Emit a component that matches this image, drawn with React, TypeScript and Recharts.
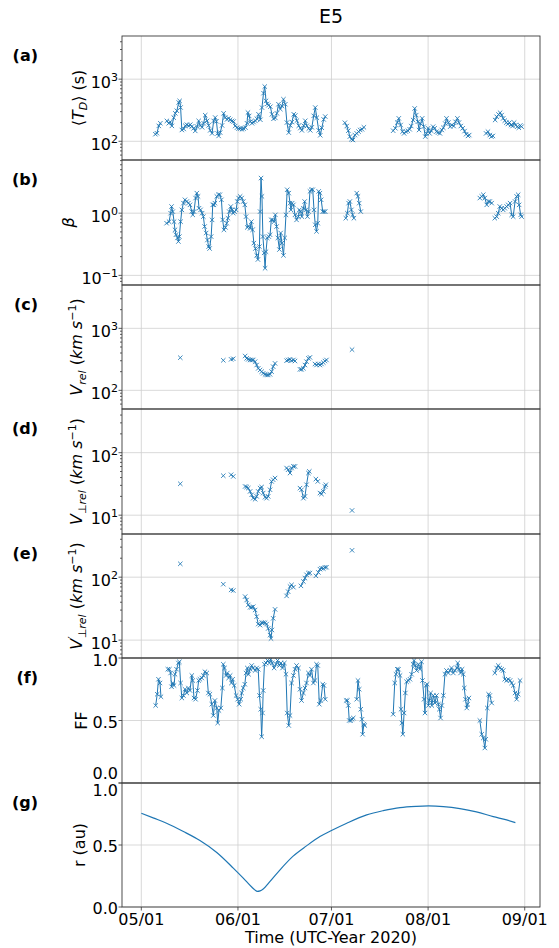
import type { ReactNode } from 'react'
import { LineChart, Line, XAxis, YAxis, CartesianGrid } from 'recharts'

type Pt = [number, number]
type Row = { t: number; v: number | null }

const FONT = '"DejaVu Sans", sans-serif'
const BLUE = '#1f77b4'
const FIG_W = 559
const PLOT_LEFT = 122
const PLOT_RIGHT = 540

// x is days since 2020-05-01
const dateTicks = [0, 31, 61, 92, 123]
const dateLabels = ['05/01', '06/01', '07/01', '08/01', '09/01']
const xDomain: [number, number] = [-6.2, 127.9]

// frame edges of the seven stacked panels, top to bottom
const panelEdges = [36, 160, 285, 409, 534, 658, 783, 907]
const panelLetters = ['(a)', '(b)', '(c)', '(d)', '(e)', '(f)', '(g)']

// <T_D> (s)
const tdSegments: Pt[][] = [
  [[4.5, 130], [5.0, 135], [5.6, 177], [6.1, 195]],
  [[8.2, 213], [8.8, 195], [9.3, 204], [9.8, 177], [10.4, 240], [10.9, 282], [11.4, 310], [12.0, 421], [12.3, 447], [12.6, 350], [13.0, 152], [13.6, 158], [14.1, 178], [14.6, 185], [15.2, 177], [15.7, 185], [16.2, 173], [16.8, 162], [17.3, 147], [17.9, 173], [18.4, 213], [18.9, 180], [19.5, 168], [20.0, 195], [20.5, 263], [21.1, 213], [21.6, 180], [22.1, 150], [22.7, 134], [23.2, 213], [23.7, 241], [24.1, 210], [24.5, 134], [24.8, 122], [25.3, 138], [25.9, 180], [26.4, 282], [26.9, 241], [27.5, 225], [28.0, 235], [28.5, 222], [29.1, 213], [29.6, 208], [30.1, 176], [30.7, 166], [31.2, 160], [31.8, 160], [32.3, 156], [32.8, 160], [33.4, 166], [33.9, 195], [34.2, 290], [34.6, 256], [35.0, 207], [35.5, 195], [36.0, 204], [36.6, 213], [37.1, 230], [37.6, 272], [38.2, 222], [38.7, 349], [39.2, 595], [39.6, 760], [40.0, 447], [40.4, 400], [40.8, 380], [41.4, 360], [41.9, 272], [42.4, 230], [43.0, 238], [43.5, 282], [44.0, 395], [44.6, 330], [45.1, 370], [45.6, 475], [46.2, 395], [46.7, 200], [47.3, 138], [47.8, 180], [48.3, 204], [48.9, 272], [49.4, 260], [49.9, 215], [50.5, 178], [51.0, 163], [51.5, 150], [52.1, 178], [52.6, 214], [53.1, 178], [53.7, 160], [54.2, 150], [54.7, 168], [55.3, 257], [55.8, 349], [56.3, 240], [56.9, 150], [57.4, 125], [57.9, 165], [58.5, 225], [59.0, 250]],
  [[65.3, 199], [65.9, 176], [66.4, 148], [66.9, 119], [67.4, 108], [67.9, 105], [68.5, 126], [69.1, 134], [69.7, 143], [70.2, 152], [70.8, 156], [71.4, 168]],
  [[80.8, 148], [81.5, 162], [82.1, 200], [82.6, 234], [83.2, 183], [83.8, 143], [84.3, 134], [84.9, 143], [85.5, 148], [86.1, 156], [86.6, 176], [87.2, 220], [87.7, 338], [88.2, 264], [88.7, 206], [89.1, 152], [89.6, 193], [90.1, 234], [90.6, 172], [91.1, 119], [91.5, 134], [92.0, 162], [92.5, 134], [93.0, 148], [93.6, 172], [94.1, 162], [94.7, 143], [95.2, 138], [95.8, 134], [96.4, 152], [96.9, 165], [97.5, 193], [97.9, 234], [98.5, 200], [99.1, 172], [99.6, 183], [100.2, 176], [100.8, 206], [101.4, 234], [101.9, 200], [102.5, 176], [103.1, 162], [103.7, 146], [104.2, 130], [104.8, 122], [105.2, 126]],
  [[110.6, 134], [111.2, 143], [111.8, 126], [112.3, 119], [112.8, 122]],
  [[113.5, 220], [114.0, 248], [114.6, 270], [115.1, 288], [115.6, 264], [116.1, 234], [116.6, 215], [117.1, 200], [117.6, 190], [118.1, 200], [118.6, 183], [119.1, 176], [119.6, 200], [120.1, 183], [120.6, 172], [121.1, 165], [121.6, 180], [122.0, 172]],
]

// plasma beta
const betaSegments: Pt[][] = [
  [[8.1, 0.69], [8.9, 0.73], [9.4, 1.0], [9.7, 1.28], [10.1, 1.06], [10.5, 0.73], [10.8, 0.54], [11.1, 0.45], [11.6, 0.4], [11.9, 0.35], [12.2, 0.42], [12.6, 0.73], [13.0, 1.13], [13.5, 1.45], [14.0, 1.64], [14.6, 1.54], [15.1, 1.45], [15.6, 1.36], [16.2, 1.06], [16.5, 0.94], [16.9, 1.06], [17.4, 1.75], [17.8, 2.1], [18.2, 1.86], [18.5, 1.2], [19.0, 1.13], [19.5, 1.0], [19.9, 0.88], [20.3, 0.61], [20.8, 0.48], [21.2, 0.37], [21.6, 0.29], [21.9, 0.27], [22.4, 0.42], [22.7, 0.78], [22.9, 1.36], [23.3, 1.36], [23.6, 1.45], [24.2, 1.86], [24.7, 1.98], [25.2, 1.98], [25.7, 1.64], [26.1, 0.78], [26.5, 0.54], [27.0, 0.59], [27.4, 0.69], [27.8, 0.83], [28.2, 1.06], [28.7, 1.28], [29.1, 1.13], [29.5, 1.0], [29.9, 1.06], [30.4, 1.13], [30.8, 1.54], [31.2, 1.75], [31.7, 1.86], [32.2, 1.75], [32.7, 1.54], [33.2, 1.36], [33.6, 0.88], [34.0, 0.59], [34.4, 0.62], [34.9, 0.57], [35.3, 0.73], [35.7, 0.54], [36.1, 0.33], [36.6, 0.27], [37.0, 0.21], [37.4, 0.18], [37.9, 0.29], [38.1, 1.06], [38.4, 3.67], [38.7, 1.86], [39.0, 0.42], [39.4, 0.23], [39.7, 0.13], [40.0, 0.24], [40.4, 0.4], [40.9, 0.42], [41.3, 0.45], [41.7, 0.78], [42.1, 0.78], [42.6, 0.73], [43.0, 0.94], [43.4, 0.61], [43.8, 0.4], [44.3, 0.26], [44.7, 0.48], [45.1, 0.33], [45.6, 0.21], [46.0, 0.4], [46.4, 0.94], [46.8, 2.38], [47.3, 2.1], [47.7, 1.45], [48.0, 1.13], [48.4, 1.45], [48.8, 1.36], [49.3, 0.94], [49.8, 0.78], [50.4, 0.88], [50.7, 1.13], [51.1, 1.06], [51.5, 0.88], [52.0, 1.2], [52.4, 1.54], [52.8, 1.13], [53.3, 0.88], [53.7, 1.06], [54.1, 2.24], [54.5, 2.38], [55.0, 2.38], [55.4, 1.13], [55.8, 0.65], [56.2, 0.51], [56.6, 0.69], [56.9, 2.24], [57.3, 2.1], [57.7, 1.64], [58.2, 1.06], [58.6, 1.06], [59.0, 1.06]],
  [[65.6, 0.83], [66.1, 1.0], [66.5, 1.45], [66.9, 1.54], [67.4, 1.13], [67.8, 0.94], [68.2, 0.83]],
  [[69.1, 2.1], [69.5, 1.86], [69.9, 1.45], [70.4, 1.06]],
  [[108.6, 1.75], [109.2, 1.86], [109.7, 1.98], [110.2, 1.75], [110.8, 1.36], [111.3, 1.54], [111.8, 1.54], [112.4, 1.45]],
  [[113.4, 0.83], [114.0, 0.88], [114.5, 1.0], [115.0, 1.28], [115.6, 1.2], [116.1, 1.13], [116.6, 1.2], [117.2, 1.28], [117.7, 1.36], [118.3, 1.45], [118.8, 0.94], [119.3, 0.88], [119.9, 1.54], [120.4, 1.86], [120.9, 1.98], [121.2, 1.36], [121.7, 0.94], [122.0, 0.88]],
]

// V_rel (km/s)
const vrelSegments: Pt[][] = [
  [[12.5, 336]],
  [[26.3, 305]],
  [[28.8, 316], [29.5, 323]],
  [[33.3, 358], [33.8, 328], [34.3, 316], [34.9, 309], [35.4, 309], [35.9, 309], [36.5, 290], [37.0, 256], [37.5, 226], [38.1, 213], [38.6, 200], [39.1, 188], [39.7, 181], [40.2, 177], [40.7, 177], [41.3, 181], [41.8, 200], [42.3, 241], [42.9, 272]],
  [[46.6, 301], [47.1, 309], [47.7, 316], [48.2, 301], [48.8, 309], [49.3, 297]],
  [[50.9, 218], [51.4, 218], [52.0, 227], [52.5, 256], [53.0, 290], [53.6, 328], [54.1, 340]],
  [[55.7, 266], [56.2, 256], [56.8, 266], [57.3, 256], [57.8, 266], [58.4, 280], [58.9, 297], [59.4, 309]],
  [[67.6, 453]],
]

// V_perp,rel (km/s)
const vperpSegments: Pt[][] = [
  [[12.5, 31.8]],
  [[26.3, 42.8]],
  [[28.8, 44.4], [29.5, 41.7]],
  [[33.3, 28.8], [33.8, 28.2], [34.3, 27.1], [34.9, 24.0], [35.4, 21.2], [35.9, 18.7], [36.5, 18.0], [37.0, 20.0], [37.5, 24.0], [38.1, 27.1], [38.6, 28.2], [39.1, 22.6], [39.7, 19.4], [40.2, 18.7], [40.7, 20.0], [41.3, 25.5], [41.8, 34.7], [42.3, 36.9], [42.9, 39.3]],
  [[46.6, 56.8], [47.1, 53.4], [47.7, 47.2], [48.2, 56.8], [48.8, 60.3], [49.3, 60.3]],
  [[50.9, 27.1], [51.4, 25.5], [52.0, 18.7], [52.5, 20.0], [53.0, 30.7], [53.6, 47.2], [53.9, 50.2]],
  [[56.0, 37.8], [56.6, 34.7]],
  [[57.3, 22.6], [57.8, 21.8], [58.4, 24.0], [58.9, 28.8], [59.2, 30.7]],
  [[67.6, 11.9]],
]

// V'_perp,rel (km/s)
const vperpPrimeSegments: Pt[][] = [
  [[12.5, 163]],
  [[26.3, 77.3]],
  [[28.8, 62.8], [29.5, 61.3]],
  [[33.3, 49.1], [33.8, 43.4], [34.3, 36.2], [34.9, 33.2], [35.4, 33.2], [35.9, 34.0], [36.5, 30.1], [37.0, 23.6], [37.5, 18.0], [38.1, 17.3], [38.6, 18.9], [39.1, 18.9], [39.7, 18.9], [40.2, 18.0], [40.7, 15.3], [41.3, 12.0], [41.6, 10.6], [41.9, 14.5], [42.3, 22.2], [42.9, 30.8]],
  [[46.6, 50.4], [47.1, 59.0], [47.7, 71.0], [48.2, 75.4], [48.8, 69.3]],
  [[51.2, 72.8], [52.0, 85.3], [52.5, 96.4], [53.0, 109], [53.6, 116], [54.1, 116]],
  [[56.0, 105], [56.8, 119], [57.3, 134], [57.8, 139], [58.4, 137], [58.9, 143], [59.4, 144]],
  [[67.6, 267]],
]

// filling factor
const ffSegments: Pt[][] = [
  [[4.6, 0.62], [5.1, 0.71], [5.5, 0.83], [6.0, 0.8], [6.3, 0.69]],
  [[8.5, 0.91], [9.0, 0.91], [9.4, 0.88], [9.7, 0.77], [10.1, 0.8], [10.5, 0.78], [10.8, 0.87], [11.3, 0.91], [11.9, 0.96], [12.2, 0.97], [12.6, 0.8], [13.0, 0.68], [13.5, 0.7], [14.0, 0.75], [14.6, 0.72], [15.1, 0.76], [15.6, 0.74], [16.2, 0.86], [16.5, 0.82], [16.9, 0.68], [17.4, 0.67], [18.0, 0.74], [18.4, 0.82], [18.8, 0.83], [19.4, 0.84], [19.9, 0.86], [20.4, 0.89], [21.0, 0.88], [21.5, 0.72], [22.0, 0.71], [22.6, 0.63], [23.1, 0.54], [23.6, 0.66], [24.2, 0.6], [24.5, 0.48], [24.9, 0.58], [25.5, 0.6], [26.0, 0.76], [26.3, 0.95], [26.7, 0.92], [27.2, 0.86], [27.6, 0.88], [28.0, 0.84], [28.5, 0.86], [28.9, 0.8], [29.3, 0.83], [29.8, 0.78], [30.4, 0.7], [30.9, 0.67], [31.4, 0.63], [31.9, 0.67], [32.2, 0.72], [32.7, 0.76], [33.2, 0.79], [33.6, 0.88], [34.0, 0.92], [34.4, 0.87], [34.9, 0.91], [35.4, 0.94], [35.9, 0.92], [36.5, 0.9], [37.0, 0.92], [37.5, 0.91], [37.9, 0.7], [38.3, 0.59], [38.6, 0.37], [38.9, 0.56], [39.1, 0.74], [39.5, 0.95], [40.0, 0.96], [40.5, 0.98], [41.1, 0.96], [41.5, 0.99], [42.0, 0.96], [42.6, 0.92], [43.2, 0.95], [43.7, 0.98], [44.3, 0.94], [44.8, 0.96], [45.3, 0.92], [45.9, 0.96], [46.4, 0.87], [46.8, 0.56], [47.3, 0.46], [47.7, 0.54], [48.2, 0.8], [48.8, 0.86], [49.3, 0.91], [49.8, 0.94], [50.4, 0.92], [50.9, 0.75], [51.4, 0.66], [52.0, 0.72], [52.5, 0.76], [53.0, 0.8], [53.6, 0.88], [54.1, 0.86], [54.6, 0.91], [55.2, 0.8], [55.7, 0.82], [56.2, 0.95], [56.6, 0.94], [57.1, 0.63], [57.6, 0.66], [58.2, 0.79], [58.6, 0.78], [59.0, 0.67]],
  [[65.7, 0.66], [66.1, 0.66], [66.4, 0.62], [66.7, 0.5], [67.2, 0.5], [67.6, 0.51], [68.0, 0.52]],
  [[69.1, 0.67], [69.5, 0.82], [69.9, 0.75], [70.4, 0.59], [70.8, 0.51], [71.0, 0.39], [71.4, 0.47], [71.7, 0.46]],
  [[80.8, 0.55], [81.3, 0.8], [81.7, 0.87], [82.1, 0.91], [82.5, 0.91], [83.0, 0.86], [83.3, 0.59], [83.6, 0.48], [83.9, 0.39], [84.3, 0.56], [84.7, 0.72], [85.1, 0.81], [85.6, 0.82], [86.2, 0.83], [86.7, 0.87], [87.2, 0.95], [87.5, 0.98], [87.9, 0.94], [88.3, 0.9], [88.9, 0.95], [89.4, 0.91], [89.9, 0.97], [90.2, 0.82], [90.7, 0.67], [91.0, 0.56], [91.3, 0.78], [91.7, 0.79], [92.1, 0.62], [92.4, 0.66], [92.8, 0.72], [93.2, 0.62], [93.7, 0.7], [94.2, 0.64], [94.7, 0.7], [95.3, 0.63], [95.6, 0.59], [96.0, 0.52], [96.4, 0.62], [96.9, 0.7], [97.4, 0.87], [97.9, 0.9], [98.5, 0.88], [99.0, 0.9], [99.5, 0.92], [100.1, 0.88], [100.6, 0.9], [101.2, 0.92], [101.5, 0.96], [102.0, 0.91], [102.4, 0.88], [102.9, 0.91], [103.3, 0.87], [103.6, 0.76], [104.0, 0.67], [104.4, 0.6], [104.7, 0.63], [105.1, 0.68]],
  [[108.6, 0.5], [109.2, 0.39], [109.7, 0.36], [110.2, 0.28], [110.5, 0.35], [111.0, 0.6], [111.4, 0.71], [111.8, 0.7], [112.4, 0.64]],
  [[113.4, 0.88], [114.0, 0.92], [114.5, 0.94], [115.0, 0.92], [115.6, 0.91], [116.1, 0.9], [116.6, 0.83], [117.2, 0.82], [117.7, 0.83], [118.3, 0.82], [118.8, 0.8], [119.3, 0.78], [119.9, 0.72], [120.4, 0.67], [120.9, 0.71], [121.5, 0.82]],
]

// heliocentric distance (au)
const rPoints: Pt[] = [
  [0, 0.756], [4, 0.717], [8.1, 0.676], [13.5, 0.609], [18.8, 0.536], [24.2, 0.44], [29.5, 0.314], [32.7, 0.233], [35.4, 0.161], [36.4, 0.138], [37.2, 0.126], [38.1, 0.13], [39.1, 0.145], [41.3, 0.206], [44.5, 0.3], [48.7, 0.41], [53.0, 0.493], [57.3, 0.568], [61.0, 0.617], [65.9, 0.676], [72.3, 0.743], [77.6, 0.777], [83.0, 0.802], [88.3, 0.812], [92.2, 0.815], [96.9, 0.81], [102.2, 0.794], [107.5, 0.767], [112.9, 0.729], [117.2, 0.702], [120, 0.681],
]

// minor tick values on the log axes
const tdMinor = [60, 70, 80, 90, 200, 300, 400, 500, 600, 700, 800, 900, 2000, 3000, 4000]
const betaMinor = [0.08, 0.09, 0.2, 0.3, 0.4, 0.5, 0.6, 0.7, 0.8, 0.9, 2, 3, 4, 5, 6, 7]
const vrelMinor = [60, 70, 80, 90, 200, 300, 400, 500, 600, 700, 800, 900, 2000, 3000, 4000]
const vperpMinor = [6, 7, 8, 9, 20, 30, 40, 50, 60, 70, 80, 90, 200, 300, 400]
const vperpPrimeMinor = [6, 7, 8, 9, 20, 30, 40, 50, 60, 70, 80, 90, 200, 300, 400]

// segments become one row list, a null row after each one breaks the line
const toRows = (segs: Pt[][]): Row[] =>
  segs.flatMap((seg) => [
    ...seg.map(([t, v]) => ({ t, v })),
    { t: seg[seg.length - 1][0] + 0.05, v: null },
  ])

const pow10 = (v: number) => {
  const e = Math.round(Math.log10(v))
  return (
    <>
      <tspan>10</tspan>
      <tspan dy={-7} fontSize={11}>{e < 0 ? `\u2212${-e}` : e}</tspan>
    </>
  )
}
const fixed1 = (v: number) => v.toFixed(1)

const cross = (p: any) => {
  const { cx, cy, value, index } = p
  if (value == null || cy == null) return <g key={`n${index}`} />
  const s = 2.2
  return (
    <path
      key={`x${index}`}
      d={`M${cx - s},${cy - s}L${cx + s},${cy + s}M${cx - s},${cy + s}L${cx + s},${cy - s}`}
      stroke={BLUE}
      strokeWidth={0.85}
      fill="none"
    />
  )
}

interface PanelProps {
  index: number
  rows: Row[]
  log?: boolean
  domain: [number, number]
  majors: number[]
  minors?: number[]
  format: (v: number) => ReactNode
  labelShift?: Record<string, number>
  markers?: boolean
  bottom?: boolean
}

function Panel({ index, rows, log, domain, majors, minors = [], format, labelShift = {}, markers = true, bottom }: PanelProps) {
  const top = panelEdges[index]
  const plotH = panelEdges[index + 1] - top
  const axisH = bottom ? 41 : 0
  const base = log ? 9 : 7

  const yTick = (p: any) => {
    const v = p.payload.value as number
    const major = majors.includes(v)
    return (
      <g>
        <line x1={PLOT_LEFT - (major ? 3.5 : 2)} x2={PLOT_LEFT} y1={p.y} y2={p.y} stroke="#333" strokeWidth={0.8} />
        {major && (
          <text x={PLOT_LEFT - 4} y={p.y + base + (labelShift[String(v)] ?? 0)} textAnchor="end" fontSize={16} fontFamily={FONT} fill="#000">
            {format(v)}
          </text>
        )}
      </g>
    )
  }

  const xTick = (p: any) => {
    const i = dateTicks.indexOf(p.payload.value)
    return (
      <g>
        <line x1={p.x} x2={p.x} y1={plotH} y2={plotH + 3.5} stroke="#333" strokeWidth={0.8} />
        <text x={p.x} y={plotH + 18} textAnchor="middle" fontSize={16} fontFamily={FONT} fill="#000">
          {dateLabels[i]}
        </text>
      </g>
    )
  }

  return (
    <div style={{ position: 'absolute', left: 0, top }}>
      <LineChart width={FIG_W} height={plotH + axisH} data={rows} margin={{ top: 0, right: FIG_W - PLOT_RIGHT, bottom: 0, left: 0 }}>
        <CartesianGrid horizontalValues={majors} verticalValues={dateTicks} stroke="#cfcfcf" strokeWidth={0.8} />
        <XAxis
          type="number"
          dataKey="t"
          domain={xDomain}
          allowDataOverflow
          ticks={dateTicks}
          interval={0}
          hide={!bottom}
          height={axisH}
          axisLine={false}
          tickLine={false}
          tick={xTick}
        />
        <YAxis
          type="number"
          scale={log ? 'log' : 'linear'}
          domain={domain}
          allowDataOverflow
          ticks={[...majors, ...minors]}
          interval={0}
          width={PLOT_LEFT}
          axisLine={false}
          tickLine={false}
          tick={yTick}
        />
        <Line
          dataKey="v"
          type={markers ? 'linear' : 'monotone'}
          stroke={BLUE}
          strokeWidth={markers ? 1 : 1.2}
          dot={markers ? cross : false}
          activeDot={false}
          connectNulls={false}
          isAnimationActive={false}
        />
      </LineChart>
    </div>
  )
}

const italic = { fontStyle: 'italic' as const }

const yLabels: { x: number; node: ReactNode }[] = [
  {
    x: 84,
    node: (
      <>
        {'\u27E8'}
        <tspan {...italic}>T</tspan>
        <tspan {...italic} fontSize={11} dy={3}>D</tspan>
        <tspan dy={-3}>{'\u27E9 (s)'}</tspan>
      </>
    ),
  },
  { x: 74, node: <tspan {...italic}>{'\u03B2'}</tspan> },
  {
    x: 82,
    node: (
      <>
        <tspan {...italic}>V</tspan>
        <tspan {...italic} fontSize={11} dy={4}>rel</tspan>
        <tspan dy={-4}> (</tspan>
        <tspan {...italic}>km s</tspan>
        <tspan fontSize={11} dy={-6}>{'\u22121'}</tspan>
        <tspan dy={6}>)</tspan>
      </>
    ),
  },
  {
    x: 82,
    node: (
      <>
        <tspan {...italic}>V</tspan>
        <tspan fontSize={11} dy={4}>{'\u22A5'}</tspan>
        <tspan {...italic} fontSize={11}>rel</tspan>
        <tspan dy={-4}> (</tspan>
        <tspan {...italic}>km s</tspan>
        <tspan fontSize={11} dy={-6}>{'\u22121'}</tspan>
        <tspan dy={6}>)</tspan>
      </>
    ),
  },
  {
    x: 82,
    node: (
      <>
        <tspan {...italic}>V</tspan>
        <tspan fontSize={11} dy={-6}>{'\u2032'}</tspan>
        <tspan fontSize={11} dy={10} dx={-2}>{'\u22A5'}</tspan>
        <tspan {...italic} fontSize={11}>rel</tspan>
        <tspan dy={-4}> (</tspan>
        <tspan {...italic}>km s</tspan>
        <tspan fontSize={11} dy={-6}>{'\u22121'}</tspan>
        <tspan dy={6}>)</tspan>
      </>
    ),
  },
  { x: 87, node: 'FF' },
  { x: 85, node: 'r (au)' },
]

function Overlay() {
  const mid = (PLOT_LEFT + PLOT_RIGHT) / 2
  return (
    <svg width={FIG_W} height={948} style={{ position: 'absolute', left: 0, top: 0, pointerEvents: 'none' }} fontFamily={FONT}>
      <text x={mid} y={23} textAnchor="middle" fontSize={19}>E5</text>
      {panelLetters.map((letter, i) => {
        const top = panelEdges[i]
        const bot = panelEdges[i + 1]
        const cy = (top + bot) / 2
        const lab = yLabels[i]
        return (
          <g key={letter}>
            <rect x={PLOT_LEFT} y={top} width={PLOT_RIGHT - PLOT_LEFT} height={bot - top} fill="none" stroke="#3a3a3a" strokeWidth={0.9} />
            <text x={38} y={top + 25} textAnchor="end" fontSize={16} fontWeight="bold">{letter}</text>
            <text x={lab.x} y={cy} transform={`rotate(-90 ${lab.x} ${cy})`} textAnchor="middle" fontSize={16}>
              {lab.node}
            </text>
          </g>
        )
      })}
      <text x={mid} y={943} textAnchor="middle" fontSize={16}>Time (UTC-Year 2020)</text>
    </svg>
  )
}

export default function App() {
  return (
    <div style={{ position: 'absolute', left: 0, top: 0, width: FIG_W, height: 948, background: '#fff', fontFamily: FONT }}>
      <style>{'.recharts-surface{overflow:visible}'}</style>
      <Panel index={0} rows={toRows(tdSegments)} log domain={[50, 4950]} majors={[100, 1000]} minors={tdMinor} format={pow10} />
      <Panel index={1} rows={toRows(betaSegments)} log domain={[0.07, 7.16]} majors={[0.1, 1]} minors={betaMinor} format={pow10} />
      <Panel index={2} rows={toRows(vrelSegments)} log domain={[50, 5000]} majors={[100, 1000]} minors={vrelMinor} format={pow10} />
      <Panel index={3} rows={toRows(vperpSegments)} log domain={[5, 500]} majors={[10, 100]} minors={vperpMinor} format={pow10} />
      <Panel index={4} rows={toRows(vperpPrimeSegments)} log domain={[5.2, 485]} majors={[10, 100]} minors={vperpPrimeMinor} format={pow10} />
      <Panel
        index={5}
        rows={toRows(ffSegments)}
        domain={[0, 1]}
        majors={[0, 0.5, 1]}
        format={fixed1}
        labelShift={{ '0': -11, '1': 1 }}
      />
      <Panel
        index={6}
        rows={rPoints.map(([t, v]) => ({ t, v }))}
        domain={[0, 1]}
        majors={[0, 0.5, 1]}
        format={fixed1}
        labelShift={{ '1': 6 }}
        markers={false}
        bottom
      />
      <Overlay />
    </div>
  )
}
